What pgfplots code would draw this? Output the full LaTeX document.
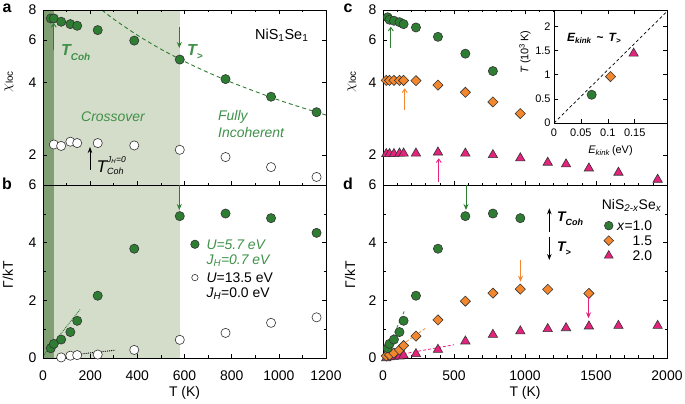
\documentclass[border=0pt]{standalone}
\usepackage{pgfplots}
\pgfplotsset{compat=1.18}
\usepackage{fontspec}
\setmainfont{Liberation Sans}
\usetikzlibrary{arrows.meta}
\definecolor{cgreen}{RGB}{46,125,50}
\definecolor{cgreentxt}{RGB}{62,145,72}
\definecolor{corange}{RGB}{242,135,45}
\definecolor{cmag}{RGB}{228,35,125}
\definecolor{shadedark}{RGB}{128,160,116}
\definecolor{shadelight}{RGB}{212,220,202}
\newcommand{\fs}[2]{\fontsize{#1}{#2}\selectfont}

\pgfplotsset{
  myax/.style={
    scale only axis, axis on top, anchor=south west,
    tick align=inside, major tick length=4bp, minor tick length=2.5bp,
    tick style={black, line width=0.6bp},
    axis line style={line width=0.8bp},
    ticklabel style={font=\fs{14}{16}},
    /pgf/number format/assume math mode=true,
    /pgf/number format/set thousands separator={},
    scaled ticks=false,
    label style={font=\fs{14}{16}},
  },
  gc/.style={only marks, mark=*, mark size=4.6bp, mark options={fill=cgreen, draw=black!80, line width=0.6bp}, forget plot},
  oc/.style={only marks, mark=*, mark size=4.6bp, mark options={fill=white, draw=black!80, line width=0.6bp}, forget plot},
  od/.style={only marks, mark=square*, mark size=3.6bp, mark options={rotate=45, fill=corange, draw=black!80, line width=0.6bp}, forget plot},
  mt/.style={only marks, mark=triangle*, mark size=5.4bp, mark options={fill=cmag, draw=black!80, line width=0.6bp}, forget plot},
  legimg/.style={legend image code/.code={\draw[##1] plot coordinates {(4bp,5bp)};}},
}

\begin{document}
\begin{tikzpicture}
\path[use as bounding box] (0,0) rectangle (685bp,404bp);

% ---------------- panel a ----------------
\begin{axis}[myax, at={(43bp,219bp)}, width=283bp, height=175bp,
  xmin=0, xmax=1200, xtick={0,200,...,1200}, minor x tick num=1, xticklabels={},
  ymode=log, ymin=1.5, ymax=8, ytick={2,4,6,8}, yticklabels={2,4,6,8}, yminorticks=false,
  yticklabel style={xshift=-3bp},
  ylabel={$\chi$\textsubscript{loc}},
  ylabel style={at={(axis description cs:-0.120,0.59)}, anchor=center}]
\fill[shadedark] (axis cs:0,1.5) rectangle (axis cs:47,8);
\fill[shadelight] (axis cs:47,1.5) rectangle (axis cs:580,8);
\addplot[cgreen, dash pattern=on 4bp off 3bp, line width=0.9bp, smooth, forget plot] coordinates {
(250,8.0)(300,7.33)(400,6.29)(500,5.5)(600,4.89)(700,4.4)(800,4.0)(900,3.67)(1000,3.38)(1100,3.14)(1200,2.93)};
\addplot[oc] coordinates {(46,2.21)(77,2.18)(116,2.27)(145,2.24)(232,2.24)(387,2.19)(580,2.10)(774,1.96)(967,1.78)(1160,1.62)};
\addplot[gc] coordinates {(33,7.38)(46,7.38)(77,7.15)(116,6.99)(145,6.88)(232,6.6)(387,5.97)(580,4.98)(774,4.13)(967,3.49)(1160,3.01)};
\end{axis}

% ---------------- panel b ----------------
\begin{axis}[myax, at={(43bp,46bp)}, width=283bp, height=173bp,
  xmin=0, xmax=1200, xtick={0,200,...,1200}, minor x tick num=1, xtick pos=bottom,
  ymin=0, ymax=6, ytick={0,2,4,6}, minor y tick num=1,
  xticklabel style={anchor=base, yshift=-22bp}, yticklabel style={xshift=-3bp},
  xlabel={T (K)}, ylabel={Γ/kT},
  xlabel style={at={(axis description cs:0.5,0)}, anchor=center, yshift=-35bp},
  ylabel style={at={(axis description cs:-0.124,0.48)}, anchor=center},
  legimg,
  legend style={draw=none, fill=none, at={(axis description cs:0.522,0.693)}, anchor=north west,
    inner sep=0pt, outer sep=0pt, cells={anchor=base west}, nodes={inner sep=0pt, font=\fs{14}{16}},
    row sep=20.7bp, column sep=7.4bp}]
\fill[shadedark] (axis cs:0,0) rectangle (axis cs:47,6);
\fill[shadelight] (axis cs:47,0) rectangle (axis cs:580,6);
\addplot[cgreen, densely dotted, line width=0.9bp, forget plot] coordinates {(0,0.06)(157,1.68)};
\addplot[black, densely dotted, line width=0.9bp, forget plot] coordinates {(72,0.06)(306,0.27)};
\addplot[oc] coordinates {(77,0.02)(116,0.08)(145,0.1)(232,0.12)(387,0.28)(580,0.63)(774,0.87)(967,1.22)(1160,1.41)};
\addplot[gc] coordinates {(33,0.34)(46,0.49)(77,0.64)(116,0.9)(145,1.29)(232,2.16)(387,3.79)(580,4.92)(774,5.01)(967,4.85)(1160,4.34)};
\addlegendimage{only marks, mark=*, mark size=4.2bp, mark options={fill=cgreen, draw=black!80, line width=0.6bp}}
\addlegendentry{\color{cgreentxt}\itshape\rlap{\raisebox{-15bp}[0pt][0pt]{J\textsubscript{H}=0.7 eV}}U=5.7 eV\strut}
\addlegendimage{only marks, mark=*, mark size=3.2bp, mark options={fill=white, draw=black!80, line width=0.6bp}}
\addlegendentry{\rlap{\raisebox{-15bp}[0pt][0pt]{\textit{J}\textsubscript{\textit{H}}=0.0 eV}}\textit{U}=13.5 eV\strut}
\end{axis}

% ---------------- panel c ----------------
\begin{axis}[myax, at={(383bp,219bp)}, width=284bp, height=175bp,
  xmin=0, xmax=2000, xtick={0,500,...,2000}, minor x tick num=4, xticklabels={},
  ymode=log, ymin=1.5, ymax=8, ytick={2,4,6,8}, yticklabels={2,4,6,8}, yminorticks=false,
  yticklabel style={xshift=-3bp},
  ylabel={$\chi$\textsubscript{loc}},
  ylabel style={at={(axis description cs:-0.109,0.59)}, anchor=center}]
\addplot[mt] coordinates {(23,2.02)(46,2.02)(77,2.02)(116,2.03)(145,2.03)(232,2.03)(387,2.05)(580,2.03)(774,2.0)(967,1.94)(1160,1.86)(1289,1.83)(1450,1.76)(1658,1.69)(1934,1.58)};
\addplot[od] coordinates {(23,4.08)(46,4.08)(77,4.08)(116,4.08)(145,4.08)(232,4.07)(387,3.90)(580,3.64)(774,3.32)(967,2.97)};
\addplot[gc] coordinates {(33,7.46)(46,7.29)(77,7.22)(116,7.12)(145,6.99)(232,6.77)(387,6.19)(580,5.27)(774,4.46)};
\end{axis}

% ---------------- inset ----------------
\begin{axis}[myax, at={(554bp,281bp)}, width=113bp, height=113bp,
  axis background/.style={fill=white},
  ticklabel style={font=\fs{11}{13}}, label style={font=\fs{11}{13}},
  xticklabel style={anchor=base, yshift=-14bp},
  xmin=0, xmax=0.21, ymin=0, ymax=2.34,
  xtick={0,0.05,0.1,0.15}, xticklabels={0,0.05,0.1,0.15},
  ytick={0,0.5,1,1.5,2}, yticklabels={0,0.5,1,1.5,2},
  xlabel={\textit{E}\textsubscript{\textit{kink}}\,(eV)}, ylabel={\textit{T}\,(10\textsuperscript{3}\,K)},
  xlabel style={at={(axis description cs:0.5,0)}, anchor=center, yshift=-28bp},
  ylabel style={at={(axis description cs:-0.257,0.63)}, anchor=center}]
\addplot[black, dash pattern=on 3bp off 2.5bp, line width=0.7bp, forget plot] coordinates {(0,0)(0.21,2.31)};
\addplot[gc] coordinates {(0.070,0.585)};
\addplot[od] coordinates {(0.105,0.961)};
\addplot[mt] coordinates {(0.148,1.44)};
\end{axis}

% ---------------- panel d ----------------
\begin{axis}[myax, at={(383bp,46bp)}, width=284bp, height=173bp,
  xmin=0, xmax=2000, xtick={0,500,...,2000}, minor x tick num=4, xtick pos=bottom,
  ymin=0, ymax=6, ytick={0,2,4,6}, minor y tick num=1,
  xticklabel style={anchor=base, yshift=-22bp}, yticklabel style={xshift=-3bp},
  xlabel={T (K)}, ylabel={Γ/kT},
  xlabel style={at={(axis description cs:0.5,0)}, anchor=center, yshift=-35bp},
  ylabel style={at={(axis description cs:-0.116,0.48)}, anchor=center},
  legimg,
  legend style={draw=none, fill=none, at={(axis description cs:0.778,0.8006)}, anchor=north west,
    inner sep=0pt, outer sep=0pt, cells={anchor=base west}, nodes={inner sep=0pt, font=\fs{14}{16}},
    row sep=2.3bp, column sep=3.6bp}]
\addplot[cgreen, dash pattern=on 3bp off 2bp, line width=0.8bp, forget plot] coordinates {(10,0.1)(150,1.62)};
\addplot[corange, dash pattern=on 3bp off 2bp, line width=0.8bp, forget plot] coordinates {(20,0.07)(305,1.05)};
\addplot[cmag, dash pattern=on 3bp off 2bp, line width=0.8bp, forget plot] coordinates {(40,0.05)(500,0.46)};
\addplot[mt] coordinates {(23,0.0)(46,0.03)(77,0.05)(116,0.06)(145,0.09)(232,0.14)(387,0.29)(580,0.58)(774,0.81)(967,0.93)(1160,1.01)(1289,1.04)(1450,1.10)(1658,1.12)(1934,1.12)};
\addplot[od] coordinates {(23,0.07)(46,0.1)(77,0.17)(116,0.28)(145,0.43)(232,0.76)(387,1.32)(580,1.97)(774,2.25)(967,2.39)(1160,2.38)(1450,2.24)};
\addplot[gc] coordinates {(33,0.34)(46,0.49)(77,0.64)(116,0.9)(145,1.29)(232,2.16)(387,3.79)(580,4.92)(774,5.01)(967,4.85)};
\addlegendimage{only marks, mark=*, mark size=4.3bp, mark options={fill=cgreen, draw=black!80, line width=0.6bp}}
\addlegendentry{\textit{x}=1.0\strut}
\addlegendimage{only marks, mark=square*, mark size=3.4bp, mark options={rotate=45, fill=corange, draw=black!80, line width=0.6bp}}
\addlegendentry{\hphantom{\textit{x}=}1.5\strut}
\addlegendimage{only marks, mark=triangle*, mark size=5bp, mark options={fill=cmag, draw=black!80, line width=0.6bp}}
\addlegendentry{\hphantom{\textit{x}=}2.0\strut}
\end{axis}

% ---------------- annotations ----------------
\begin{scope}[x=1bp, y=1bp]
% panel letters
\node[font=\bfseries\fs{16}{18}, anchor=center, inner sep=0pt] at (7,396) {a};
\node[font=\bfseries\fs{16}{18}, anchor=center, inner sep=0pt] at (7,220) {b};
\node[font=\bfseries\fs{16}{18}, anchor=center, inner sep=0pt] at (348,396) {c};
\node[font=\bfseries\fs{16}{18}, anchor=center, inner sep=0pt] at (348,220) {d};
% panel a
\node[anchor=base west, font=\fs{14.5}{16}, inner sep=0] at (255,365) {NiS\textsubscript{1}Se\textsubscript{1}};
\node[anchor=base, font=\itshape\fs{14}{16}, text=cgreentxt, inner sep=0] at (113,282.3) {Crossover};
\node[anchor=base west, font=\itshape\fs{14}{16}, text=cgreentxt, inner sep=0] at (218,283.3) {Fully};
\node[anchor=base west, font=\itshape\fs{14}{16}, text=cgreentxt, inner sep=0] at (218,266.3) {Incoherent};
\draw[cgreen, line width=0.9bp, -{Straight Barb[length=3.5bp,width=5bp]}] (53.8,354) -- (53.8,381);
\node[anchor=base west, text=cgreentxt, inner sep=0, font=\bfseries\itshape\fs{16}{18}] at (61,349) {T\raisebox{-5bp}{\fs{10}{12}Coh}};
\draw[cgreen, line width=0.9bp, -{Stealth[length=6bp,width=5bp]}] (179.3,377) -- (179.3,356);
\node[anchor=base west, text=cgreentxt, inner sep=0, font=\bfseries\itshape\fs{16}{18}] at (187,349) {T\raisebox{-4bp}{\fs{10}{12}>}};
\draw[black, line width=0.8bp, -{Stealth[length=6bp,width=4.5bp]}] (90,234) -- (90,257);
\node[anchor=base west, inner sep=0, font=\itshape\fs{17}{18}] at (96.5,232) {T\rlap{\raisebox{10bp}{\fs{8.5}{10}J\textsubscript{H}=0}}\raisebox{-2bp}{\fs{9}{10}Coh}};
% panel b
\draw[cgreen, line width=0.9bp, -{Stealth[length=6bp,width=5bp]}] (179.3,219) -- (179.3,194);
% panel c arrows
\draw[cgreen, line width=0.9bp, -{Straight Barb[length=3.5bp,width=5bp]}] (390.8,355.7) -- (390.8,377.3);
\draw[corange, line width=0.9bp, -{Straight Barb[length=3.5bp,width=5bp]}] (404.7,294) -- (404.7,315.7);
\draw[cmag, line width=0.9bp, -{Straight Barb[length=3.5bp,width=5bp]}] (438.8,222.3) -- (438.8,245.7);
% inset text
\node[anchor=base west, inner sep=0, font=\bfseries\itshape\fs{12}{14}] at (567,363) {E\raisebox{-2.5bp}{\fs{8}{9}kink} \,\textasciitilde\, T\raisebox{-2.5bp}{\fs{8}{9}>}};
% panel d arrows
\draw[cgreen, line width=0.9bp, -{Stealth[length=6bp,width=5bp]}] (466,219) -- (466,194);
\draw[corange, line width=0.9bp, -{Stealth[length=6bp,width=5bp]}] (520.5,144) -- (520.5,122.3);
\draw[cmag, line width=0.9bp, -{Stealth[length=6bp,width=5bp]}] (588.5,107.3) -- (588.5,85.7);
% panel d key
\node[anchor=base west, inner sep=0, font=\fs{14}{16}] at (601.7,194.5) {NiS\textsubscript{\textit{2-x}}Se\textsubscript{\textit{x}}};
\draw[black, line width=0.9bp, -{Stealth[length=6bp,width=4.5bp]}] (549.3,172.3) -- (549.3,195.7);
\node[anchor=base west, inner sep=0, font=\bfseries\itshape\fs{14}{16}] at (557,182.3) {T\raisebox{-4bp}{\fs{9}{10}Coh}};
\draw[black, line width=0.9bp, -{Stealth[length=6bp,width=4.5bp]}] (549.3,167.3) -- (549.3,144);
\node[anchor=base west, inner sep=0, font=\bfseries\itshape\fs{14}{16}] at (557,152.3) {T\raisebox{-4bp}{\fs{9}{10}>}};
\end{scope}
\end{tikzpicture}
\end{document}
